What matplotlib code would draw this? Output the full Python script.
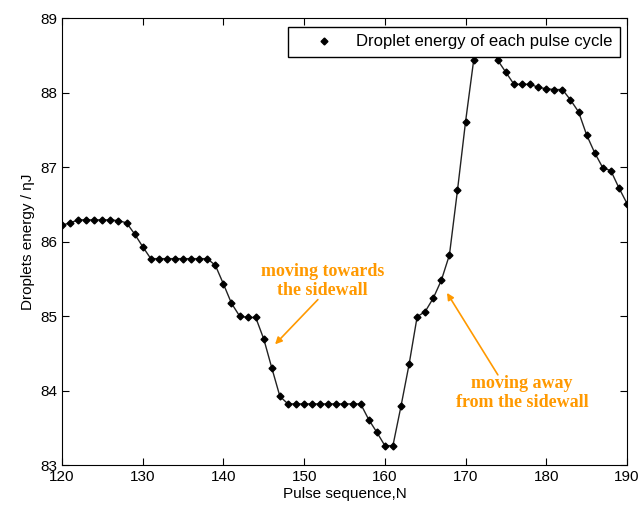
import matplotlib.pyplot as plt
import numpy as np

plt.rcParams["font.family"] = ["Liberation Sans", "DejaVu Sans"]

# pulse index and droplet energy (nJ)
pulse = np.arange(120, 191)
energy = [
    86.22, 86.25, 86.29, 86.29, 86.29, 86.29, 86.29, 86.28, 86.25, 86.10,
    85.93, 85.77, 85.77, 85.77, 85.77, 85.77, 85.77, 85.77, 85.77, 85.68,
    85.43, 85.17, 85.00, 84.98, 84.98, 84.69, 84.30, 83.92, 83.82, 83.82,
    83.82, 83.82, 83.82, 83.82, 83.82, 83.82, 83.82, 83.82, 83.61, 83.44,
    83.26, 83.26, 83.79, 84.35, 84.99, 85.06, 85.24, 85.48, 85.82, 86.69,
    87.61, 88.43, 88.62, 88.62, 88.43, 88.27, 88.11, 88.11, 88.11, 88.07,
    88.05, 88.04, 88.04, 87.90, 87.74, 87.43, 87.19, 86.99, 86.95, 86.72,
    86.51,
]
orange = "#FF9900"

fig = plt.figure(figsize=(6.43, 5.11), dpi=100)
ax = fig.add_axes([62 / 643, 46 / 511, 565 / 643, 447 / 511])

ax.plot(pulse, energy, color="#222222", lw=1.0, zorder=2)
ax.plot(pulse, energy, ls="none", marker="D", ms=3.5, color="black",
        label="Droplet energy of each pulse cycle", zorder=3)

ax.set_xlim(120, 190)
ax.set_ylim(83, 89)
ax.set_xticks(range(120, 191, 10))
ax.set_yticks(range(83, 90))
ax.tick_params(direction="in", top=True, right=True, labelsize=11, length=5)
ax.set_xlabel("Pulse sequence,N", fontsize=11, labelpad=2)
ax.set_ylabel("Droplets energy / ηJ", fontsize=11, labelpad=4)

leg = ax.legend(loc="upper right", fontsize=12, frameon=True, fancybox=False,
                framealpha=1, edgecolor="black", handlelength=3.4,
                handletextpad=0.25, borderpad=0.45, borderaxespad=0,
                bbox_to_anchor=(0.988, 0.98))
leg.get_frame().set_linewidth(1.0)
leg.set_zorder(5)

font_ann = dict(family=["Liberation Serif", "DejaVu Serif"], fontweight="bold",
                fontsize=13, color=orange, ha="center", va="center",
                linespacing=1.15)
arrow = dict(arrowstyle="-|>", color=orange, lw=1.2, mutation_scale=10,
             shrinkA=0, shrinkB=0)

ax.text(152.3, 85.47, "moving towards\nthe sidewall", **font_ann)
ax.annotate("", xy=(146.4, 84.62), xytext=(151.7, 85.22), arrowprops=arrow)

ax.text(177.0, 83.97, "moving away\nfrom the sidewall", **font_ann)
ax.annotate("", xy=(167.7, 85.31), xytext=(174.0, 84.21), arrowprops=arrow)

fig.savefig("out.png", dpi=100)
